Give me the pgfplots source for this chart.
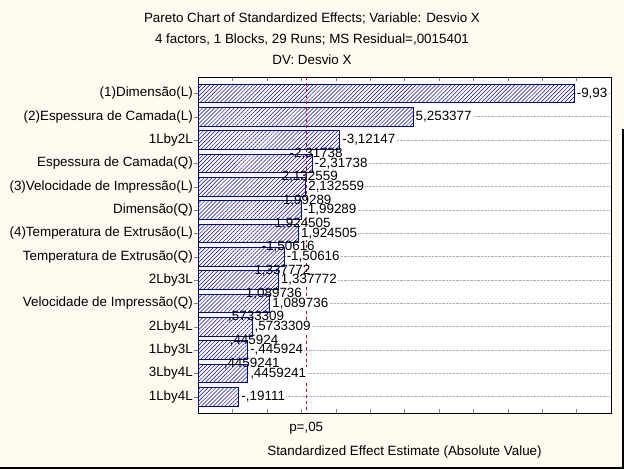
\documentclass[border=0pt]{standalone}
\usepackage{pgfplots}
\pgfplotsset{compat=1.18}
\usepackage{pgfplotstable}
\usepackage{fontspec}
\setmainfont{Liberation Sans}
\usetikzlibrary{patterns.meta}
\definecolor{bgc}{RGB}{255,251,240}
\definecolor{barblue}{RGB}{0,0,170}
\definecolor{pline}{RGB}{200,0,30}
\newcommand{\fs}{\fontsize{13.4}{15}\selectfont}

\pgfplotstableread[col sep=semicolon]{
y;v;lab
0;9.934;-9,93
1;5.253377;5,253377
2;3.12147;-3,12147
3;2.31738;-2,31738
4;2.132559;2,132559
5;1.99289;-1,99289
6;1.924505;1,924505
7;1.50616;-1,50616
8;1.337772;1,337772
9;1.089736;1,089736
10;0.5733309;,5733309
11;0.445924;-,445924
12;0.4459241;,4459241
13;0.19111;-,19111
}\effects

\pgfplotstableread[col sep=semicolon]{
y;v;lab
3;2.31738;-2,31738
4;2.132559;2,132559
5;1.99289;-1,99289
6;1.924505;1,924505
7;1.50616;-1,50616
8;1.337772;1,337772
9;1.089736;1,089736
10;0.5733309;,5733309
11;0.445924;-,445924
12;0.4459241;,4459241
}\ghost

\begin{document}
\begin{tikzpicture}[font=\fs]
\useasboundingbox (0,0) rectangle (624pt,469pt);
\fill[bgc] (0,0) rectangle (624pt,469pt);
\fill[black] (0,0) rectangle (624pt,2.5pt);
\fill[black] (621.5pt,0) rectangle (624pt,340pt);
\node at (312pt,450.7pt) {Pareto Chart of Standardized Effects; Variable: Desvio X};
\node at (312pt,429.7pt) {4 factors, 1 Blocks, 29 Runs; MS Residual=,0015401};
\node at (312pt,409.7pt) {DV: Desvio X};
\begin{axis}[
  at={(198pt,56pt)}, anchor=south west,
  width=413pt, height=336pt, scale only axis,
  xmin=0, xmax=12, ymin=-0.7, ymax=13.7, y dir=reverse,
  clip=false,
  axis background/.style={fill=white},
  axis line style={line width=0.8pt},
  tick align=inside,
  xtick={0,...,12}, xticklabels={}, xtick pos=both,
  major tick length=4pt,
  ytick={0,...,13}, ytick pos=left,
  ytick style={xshift=-4pt},
  yticklabels={(1)Dimensão(L),(2)Espessura de Camada(L),1Lby2L,Espessura de Camada(Q),(3)Velocidade de Impressão(L),Dimensão(Q),(4)Temperatura de Extrusão(L),Temperatura de Extrusão(Q),2Lby3L,Velocidade de Impressão(Q),2Lby4L,1Lby3L,3Lby4L,1Lby4L},
  yticklabel style={font=\fs, inner sep=1pt, xshift=-4pt},
  ymajorgrids, major grid style={densely dotted, gray!60, line width=0.6pt},
]
\addplot[xbar, bar width=0.8, bar shift=0pt, fill=white, draw=none, forget plot]
  table[x expr=\thisrow{v}+1, y=y]{\effects};
\addplot[xbar, bar width=0.8, bar shift=0pt, draw=barblue, line width=1pt,
  pattern={Lines[angle=45,distance=2.8pt,line width=0.5pt]}, pattern color=barblue,
  nodes near coords, point meta=explicit symbolic,
  every node near coord/.style={anchor=west, fill=white, inner sep=1pt, xshift=1pt, text=black, font=\fs}]
  table[x expr=\thisrow{v}+1, y=y, meta=lab]{\effects};
\addplot[draw=none, nodes near coords, point meta=explicit symbolic,
  every node near coord/.style={anchor=center, xshift=4pt, inner sep=0pt, text=black, font=\fs}]
  table[x expr=\thisrow{v}+1, y expr=\thisrow{y}-0.42, meta=lab]{\ghost};
\addplot[pline, dashed, line width=0.8pt] coordinates {(3.1448,-0.7) (3.1448,13.7)};
\node at (axis cs:3.1448,13.7) [yshift=-15pt] {p=,05};
\node at (axis cs:6,13.7) [yshift=-38.7pt] {Standardized Effect Estimate (Absolute Value)};
\end{axis}
\end{tikzpicture}
\end{document}
